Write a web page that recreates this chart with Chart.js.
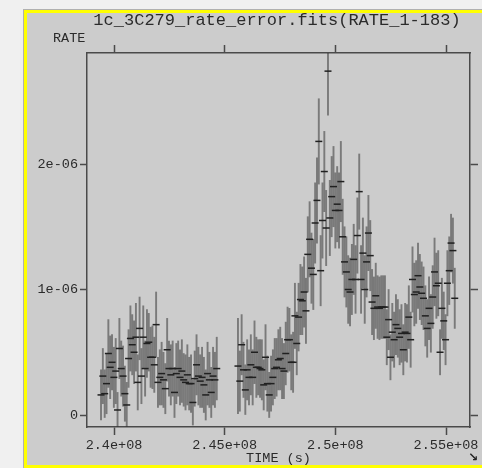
<!DOCTYPE html>
<html>
<head>
<meta charset="utf-8">
<script src="https://cdn.jsdelivr.net/npm/chart.js@4.4.1/dist/chart.umd.min.js"></script>
<style>
  html, body { margin:0; padding:0; background:#f0f0f0; width:482px; height:468px; overflow:hidden; }
  #panel { position:absolute; left:24px; top:10px; width:470px; height:452px; background:#cccccc;
           border:3px solid #ffff00; box-shadow:0 0 0 1px #b0b0b0; }
  #cv { position:absolute; left:0; top:0; }
  #corner { position:absolute; left:468px; top:451px; font:bold 12px "DejaVu Sans"; color:#222; line-height:12px; }
</style>
</head>
<body>
<div id="panel"></div>
<canvas id="cv" width="482" height="468"></canvas>
<div id="corner">↘</div>
<script>
// ---- data ----
const TITLE = "1c_3C279_rate_error.fits(RATE_1-183)";
const Y_LABEL = "RATE";
const X_LABEL = "TIME (s)";

// bin centre times, in kiloseconds
const TIME_KS = [
 239413,239496,239579,239662,239745,239828,239911,239994,240077,240160,
 240243,240326,240409,240492,240575,240658,240741,240824,240907,240990,
 241073,241156,241239,241322,241405,241488,241571,241654,241737,241820,
 241903,241986,242069,242152,242235,242318,242401,242484,242567,242650,
 242733,242816,242899,242982,243065,243148,243231,243314,243397,243480,
 243563,243646,243729,243812,243895,243978,244061,244144,244227,244310,
 244393,244476,244559,244642,
 245601,245684,245767,245850,245933,246016,246099,246182,246265,246348,
 246431,246514,246597,246680,246763,246846,246929,247012,247095,247178,
 247261,247344,247427,247510,247593,247676,247759,247842,247925,248008,
 248091,248174,248257,248340,248423,248506,248589,248672,248755,248838,
 248921,249004,249087,249170,249253,249336,249419,249502,249585,249668,
 249751,249834,249917,250000,250083,250166,250249,250332,250415,250498,
 250581,250664,250747,250830,250913,250996,251079,251162,251245,251328,
 251411,251494,251577,251660,251743,251826,251909,251992,252075,252158,
 252241,252324,252407,252490,252573,252656,252739,252822,252905,252988,
 253071,253154,253237,253320,253403,253486,253569,253652,253735,253818,
 253901,253984,254067,254150,254233,254316,254399,254482,254565,254648,
 254731,254814,254897,254980,255063,255146,255229,255312,255395
];

// rate, in units of 1e-6
const RATE_E6 = [
 0.16,0.31,0.17,0.25,0.49,0.38,0.42,0.30,0.35,0.04,
 0.53,0.37,0.31,0.17,0.08,0.45,0.61,0.56,0.50,0.62,
 0.26,0.69,0.31,0.62,0.37,0.57,0.58,0.46,0.46,0.40,
 0.72,0.26,0.30,0.33,0.28,0.21,0.52,0.37,0.32,0.37,
 0.18,0.33,0.37,0.30,0.35,0.28,0.26,0.32,0.25,0.25,
 0.10,0.29,0.40,0.31,0.27,0.30,0.24,0.16,0.33,0.28,
 0.18,0.31,0.28,0.37,
 0.39,0.27,0.56,0.36,0.20,0.36,0.30,0.40,0.30,0.50,
 0.38,0.38,0.37,0.36,0.24,0.46,0.25,0.16,0.25,0.30,
 0.37,0.38,0.44,0.45,0.37,0.35,0.49,0.60,0.60,0.42,
 0.42,0.79,0.57,0.78,0.92,0.91,0.98,0.83,1.28,1.40,
 1.17,1.12,1.53,1.71,2.18,1.15,1.55,1.94,1.49,2.74,
 1.57,1.74,1.82,1.63,1.68,1.63,1.86,1.42,1.22,1.14,
 1.00,0.98,1.08,1.24,1.08,1.43,1.78,1.08,1.29,1.00,
 1.22,1.45,1.27,0.90,0.85,0.95,0.86,0.85,0.86,0.86,
 0.86,0.62,0.76,0.46,0.66,0.60,0.72,0.69,0.62,0.65,
 0.52,0.66,0.65,0.78,0.60,1.08,0.96,0.98,1.11,1.02,
 0.97,0.93,0.79,0.69,0.85,0.73,0.94,1.14,1.03,1.05,
 0.50,0.85,0.75,0.60,1.05,1.15,1.37,1.31,0.93
];

// 1-sigma error, in units of 1e-6
const ERR_E6 = [
 0.20,0.22,0.19,0.24,0.27,0.25,0.22,0.24,0.26,0.14,
 0.24,0.22,0.24,0.22,0.18,0.23,0.26,0.24,0.25,0.27,
 0.22,0.25,0.22,0.25,0.22,0.27,0.23,0.24,0.25,0.22,
 0.26,0.20,0.22,0.25,0.22,0.20,0.25,0.22,0.24,0.22,
 0.20,0.24,0.22,0.22,0.25,0.21,0.22,0.24,0.21,0.23,
 0.18,0.22,0.24,0.23,0.21,0.24,0.22,0.20,0.25,0.22,
 0.20,0.23,0.22,0.25,
 0.38,0.24,0.24,0.22,0.20,0.24,0.22,0.24,0.22,0.25,
 0.24,0.22,0.23,0.24,0.20,0.26,0.22,0.18,0.22,0.22,
 0.24,0.23,0.24,0.25,0.24,0.22,0.25,0.26,0.25,0.22,
 0.24,0.26,0.25,0.27,0.28,0.27,0.28,0.26,0.30,0.30,
 0.28,0.28,0.32,0.34,0.34,0.28,0.30,0.32,0.30,0.35,
 0.30,0.32,0.32,0.30,0.30,0.30,0.32,0.30,0.28,0.28,
 0.27,0.27,0.28,0.28,0.27,0.30,0.30,0.27,0.28,0.27,
 0.28,0.30,0.28,0.26,0.25,0.26,0.25,0.25,0.25,0.25,
 0.25,0.22,0.24,0.18,0.23,0.22,0.24,0.23,0.22,0.23,
 0.20,0.23,0.23,0.25,0.22,0.26,0.25,0.25,0.26,0.26,
 0.25,0.25,0.24,0.23,0.25,0.23,0.25,0.27,0.26,0.26,
 0.18,0.24,0.23,0.20,0.26,0.27,0.23,0.26,0.24
];

const X_TICKS = [2.4e8, 2.45e8, 2.5e8, 2.55e8];
const X_TICK_LABELS = ["2.4e+08", "2.45e+08", "2.5e+08", "2.55e+08"];
const Y_TICKS = [0, 1e-6, 2e-6];
const Y_TICK_LABELS = ["0", "1e-06", "2e-06"];
const X_RANGE = [2.3878e8, 2.56084e8];
const Y_RANGE = [-0.0956e-6, 2.8845e-6];

// ---- build library data ----
const centres = TIME_KS.map((t, i) => ({ x: t * 1000, y: RATE_E6[i] * 1e-6 }));
const errbars = TIME_KS.map((t, i) => ({ x: t * 1000, y: [(RATE_E6[i] - ERR_E6[i]) * 1e-6, (RATE_E6[i] + ERR_E6[i]) * 1e-6] }));

const FONT = { family: "'Liberation Mono', 'DejaVu Sans Mono', monospace", size: 13.5 };
const AXIS_COL = '#4a4a4a';
const TXT_COL = '#2b2b2b';

function gridOpts() {
  return { offset: false, drawOnChartArea: false, drawTicks: true, tickLength: 8, tickColor: AXIS_COL, tickWidth: 1.5 };
}
function borderOpts() { return { display: true, color: AXIS_COL, width: 1.5 }; }

const textPlugin = {
  id: 'texts',
  afterDraw(chart) {
    const ctx = chart.ctx;
    ctx.save();
    ctx.fillStyle = TXT_COL;
    ctx.textBaseline = 'middle';
    ctx.font = "17px 'Liberation Mono', 'DejaVu Sans Mono', monospace";
    ctx.textAlign = 'center';
    ctx.fillText(TITLE, 277, 20);
    ctx.font = "13.5px 'Liberation Mono', 'DejaVu Sans Mono', monospace";
    ctx.textAlign = 'left';
    ctx.fillText(Y_LABEL, 53, 38);
    ctx.restore();
  }
};

new Chart(document.getElementById('cv'), {
  type: 'bar',
  data: {
    datasets: [
      {
        type: 'scatter', data: centres, order: 0,
        pointStyle: 'line', pointRadius: 3.5, borderColor: '#202020', borderWidth: 1.5,
        backgroundColor: '#202020', showLine: false, xAxisID: 'x', yAxisID: 'y'
      },
      {
        type: 'bar', data: errbars, order: 1,
        backgroundColor: 'rgba(55,55,55,0.55)', borderWidth: 0, barThickness: 1.25,
        grouped: false, xAxisID: 'x', yAxisID: 'y'
      }
    ]
  },
  options: {
    responsive: false, animation: false,
    layout: { padding: 0 },
    plugins: { legend: { display: false }, tooltip: { enabled: false }, title: { display: false } },
    scales: {
      x: {
        type: 'linear', position: 'bottom', min: X_RANGE[0], max: X_RANGE[1], offset: false,
        grid: gridOpts(), border: borderOpts(),
        afterBuildTicks: s => { s.ticks = X_TICKS.map(v => ({ value: v })); },
        afterFit: s => { s.height = 41; },
        ticks: { font: FONT, color: TXT_COL, padding: 2, maxRotation: 0, autoSkip: false,
                 callback: (v) => X_TICK_LABELS[X_TICKS.indexOf(v)] },
        title: { display: true, text: X_LABEL, font: FONT, color: TXT_COL, padding: { top: 0, bottom: 1 } }
      },
      xTop: {
        type: 'linear', position: 'top', min: X_RANGE[0], max: X_RANGE[1], offset: false,
        grid: gridOpts(), border: borderOpts(),
        afterBuildTicks: s => { s.ticks = X_TICKS.map(v => ({ value: v })); },
        afterFit: s => { s.height = 53; },
        ticks: { display: false }
      },
      y: {
        type: 'linear', position: 'left', min: Y_RANGE[0], max: Y_RANGE[1],
        grid: { ...gridOpts(), tickLength: 7 }, border: borderOpts(),
        afterBuildTicks: s => { s.ticks = Y_TICKS.map(v => ({ value: v })); },
        afterFit: s => { s.width = 87; },
        ticks: { font: FONT, color: TXT_COL, padding: 2, autoSkip: false,
                 callback: (v) => Y_TICK_LABELS[Y_TICKS.indexOf(v)] }
      },
      yRight: {
        type: 'linear', position: 'right', min: Y_RANGE[0], max: Y_RANGE[1],
        grid: gridOpts(), border: borderOpts(),
        afterBuildTicks: s => { s.ticks = Y_TICKS.map(v => ({ value: v })); },
        afterFit: s => { s.width = 12; },
        ticks: { display: false }
      }
    }
  },
  plugins: [textPlugin]
});
</script>
</body>
</html>
